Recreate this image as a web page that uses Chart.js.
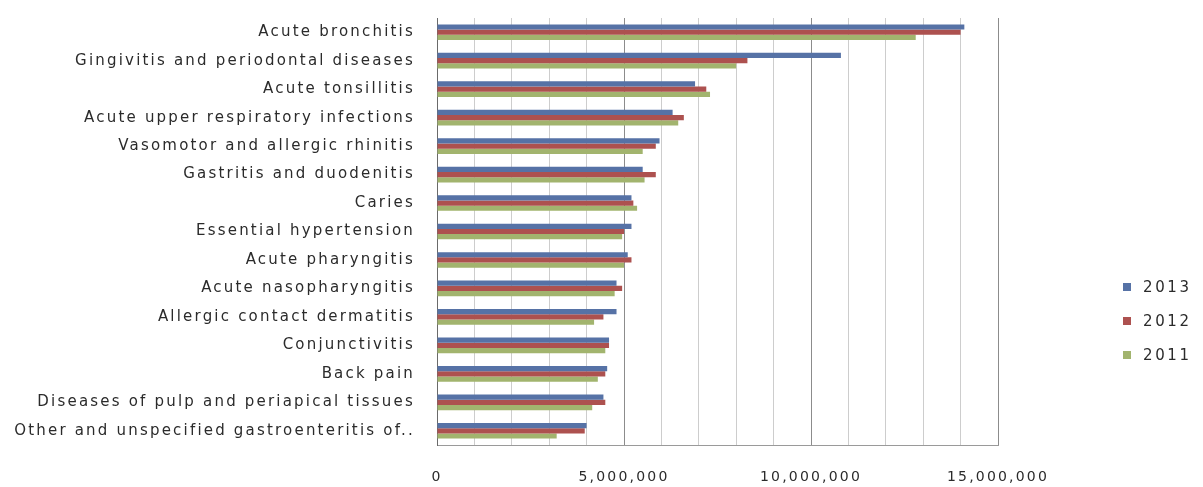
<!DOCTYPE html>
<html>
<head>
<meta charset="utf-8">
<script src="https://cdn.jsdelivr.net/npm/chart.js@4.4.0/dist/chart.umd.min.js"></script>
<style>
  html, body { margin: 0; padding: 0; background: #ffffff; }
  #wrap { position: relative; width: 1203px; height: 487px; }
  #legend { position: absolute; left: 1123px; top: 270px; font-family: "DejaVu Sans", sans-serif; font-size: 15px; letter-spacing: 2.6px; color: #2b2b2b; }
  .li { display: flex; align-items: center; height: 34px; }
  .sw { width: 8px; height: 8px; margin-right: 12px; }
</style>
</head>
<body>
<div id="wrap">
  <canvas id="c"></canvas>
  <div id="legend"></div>
</div>
<script>
const categories = [
  "Acute bronchitis",
  "Gingivitis and periodontal diseases",
  "Acute tonsillitis",
  "Acute upper respiratory infections",
  "Vasomotor and allergic rhinitis",
  "Gastritis and duodenitis",
  "Caries",
  "Essential hypertension",
  "Acute pharyngitis",
  "Acute nasopharyngitis",
  "Allergic contact dermatitis",
  "Conjunctivitis",
  "Back pain",
  "Diseases of pulp and periapical tissues",
  "Other and unspecified gastroenteritis of.."
];
const seriesNames = ["2013", "2012", "2011"];
const values2013 = [14100000, 10800000, 6900000, 6300000, 5950000, 5500000, 5200000, 5200000, 5100000, 4800000, 4800000, 4600000, 4550000, 4450000, 4000000];
const values2012 = [14000000, 8300000, 7200000, 6600000, 5850000, 5850000, 5250000, 5000000, 5200000, 4950000, 4450000, 4600000, 4500000, 4500000, 3950000];
const values2011 = [12800000, 8000000, 7300000, 6450000, 5500000, 5550000, 5350000, 4950000, 5000000, 4750000, 4200000, 4500000, 4300000, 4150000, 3200000];
const seriesColors = ["#5672a6", "#ad514f", "#a2b46e"];
const xMax = 15000000;
const xStep = 1000000;
const xLabelEvery = 5000000;

const SPACING = '2.2px';
const spacingPlugin = {
  id: 'spacing',
  beforeUpdate(chart) { chart.ctx.letterSpacing = SPACING; },
  beforeLayout(chart) { chart.ctx.letterSpacing = SPACING; },
  beforeDraw(chart) { chart.ctx.letterSpacing = SPACING; }
};

const fmt = v => v.toLocaleString('en-US');

const chart = new Chart(document.getElementById('c'), {
  type: 'bar',
  data: {
    labels: categories,
    datasets: [
      { label: seriesNames[0], data: values2013, backgroundColor: seriesColors[0] },
      { label: seriesNames[1], data: values2012, backgroundColor: seriesColors[1] },
      { label: seriesNames[2], data: values2011, backgroundColor: seriesColors[2] }
    ]
  },
  options: {
    indexAxis: 'y',
    responsive: true,
    maintainAspectRatio: false,
    animation: false,
    layout: { padding: { top: 18, right: 205, left: 0, bottom: 0 } },
    datasets: { bar: { categoryPercentage: 0.55, barPercentage: 1.0 } },
    plugins: { legend: { display: false }, tooltip: { enabled: false } },
    scales: {
      x: {
        min: 0, max: xMax,
        grid: {
          drawTicks: false,
          color: ctx => (ctx.tick && ctx.tick.value % xLabelEvery === 0) ? '#8c8c8c' : '#cdcdcd',
          lineWidth: 1
        },
        border: { display: true, color: '#9a9a9a' },
        ticks: {
          stepSize: xStep,
          autoSkip: false,
          maxRotation: 0,
          padding: 24,
          color: '#2b2b2b',
          font: { family: 'DejaVu Sans', size: 14 },
          callback: v => (v % xLabelEvery === 0) ? fmt(v) : ''
        },
        afterFit: s => { s.height = 42; }
      },
      y: {
        grid: { display: true, color: 'rgba(0,0,0,0)', drawTicks: false },
        border: { display: true, color: '#6a6a6a' },
        ticks: {
          padding: 22,
          autoSkip: false,
          color: '#2b2b2b',
          font: { family: 'DejaVu Sans', size: 15 }
        },
        afterFit: s => { s.width = 437; s.paddingTop = 0; s.paddingBottom = 0; }
      }
    }
  },
  plugins: [spacingPlugin]
});

const legend = document.getElementById('legend');
seriesNames.forEach((name, i) => {
  const row = document.createElement('div');
  row.className = 'li';
  const sw = document.createElement('span');
  sw.className = 'sw';
  sw.style.background = seriesColors[i];
  const t = document.createElement('span');
  t.textContent = name;
  row.appendChild(sw); row.appendChild(t);
  legend.appendChild(row);
});
</script>
</body>
</html>
